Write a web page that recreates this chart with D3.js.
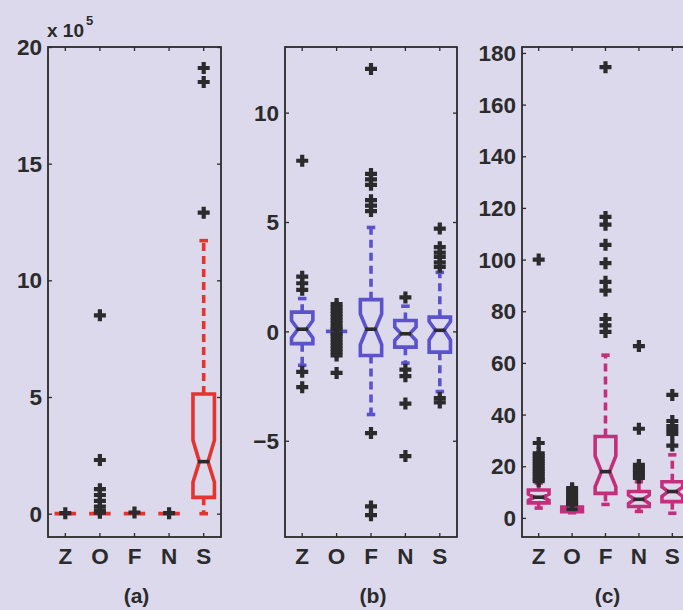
<!DOCTYPE html>
<html lang="en">
<head>
<meta charset="utf-8">
<title>Box plots Z O F N S</title>
<script type="text/javascript" src="https://d3js.org/d3.v7.min.js"></script>
<style type="text/css">
  body { margin: 0; background: #dcd9ec; }
  svg { display: block; }
  .tick text, .lbl { font-family: "Liberation Sans", Arial, sans-serif; font-weight: bold; fill: #2b2b2b; }
  .tick line { stroke: #2b2b2b; stroke-width: 1.3px; }
</style>
</head>
<body>
<script type="text/javascript">

// categories on every panel
var categories = ["Z", "O", "F", "N", "S"];

// panel (a), values in units of 10^5
var aQ1 = [0, 0, 0, 0, 0.7];
var aMed = [0, 0, 0, 0, 2.23];
var aQ3 = [0, 0, 0, 0, 5.13];
var aNotchLo = [0, 0, 0, 0, 1.35];
var aNotchHi = [0, 0, 0, 0, 3.15];
var aWhiskLo = [0, 0, 0, 0, 0];
var aWhiskHi = [0, 0, 0, 0, 11.7];
var aOutliers = [
  [0.02],
  [8.5, 2.3, 1.05, 0.8, 0.55, 0.3, 0.12, 0.04],
  [0.05],
  [0.02],
  [12.9, 18.5, 19.1]
];
var aTicks = [0, 5, 10, 15, 20];

// panel (b)
var bQ1 = [-0.56, 0, -1.1, -0.72, -0.95];
var bMed = [0.1, 0, 0.1, -0.11, 0.05];
var bQ3 = [0.88, 0, 1.45, 0.5, 0.65];
var bNotchLo = [-0.3, 0, -0.6, -0.42, -0.4];
var bNotchHi = [0.5, 0, 0.8, 0.2, 0.45];
var bWhiskLo = [-1.55, 0, -3.8, -1.45, -2.75];
var bWhiskHi = [1.5, 0, 4.75, 1.15, 2.7];
var bOutliers = [
  [7.8, 2.5, 2.2, 1.9, -1.85, -2.55],
  [1.25, 1.1, 0.95, 0.8, 0.65, 0.5, 0.35, 0.2, 0.1, -0.1, -0.2, -0.35, -0.5, -0.65, -0.8, -0.95, -1.1, -1.9],
  [12.0, 7.2, 6.95, 6.7, 6.0, 5.75, 5.5, -4.65, -8.0, -8.4],
  [1.55, -1.75, -2.05, -3.3, -5.7],
  [4.7, 3.85, 3.6, 3.4, 3.15, 2.95, -3.05, -3.25]
];
var bTicks = [-5, 0, 5, 10];

// panel (c)
var cQ1 = [5.8, 2.4, 9.5, 4.4, 6.3];
var cMed = [8.0, 3.3, 17.9, 7.2, 10.2];
var cQ3 = [10.8, 4.2, 31.5, 10.2, 14];
var cNotchLo = [6.8, 2.9, 12, 5.6, 8.3];
var cNotchHi = [9.2, 3.7, 24, 8.8, 12];
var cWhiskLo = [3.8, 2.0, 5.2, 2.5, 1.8];
var cWhiskHi = [13.5, 4.6, 63, 14, 24.4];
var cOutliers = [
  [100, 29, 25, 24, 23, 22, 21, 20, 19, 18, 17, 16, 15, 14.2],
  [11.5, 10.5, 9.5, 8.5, 7.5, 6.5, 5.8, 5.2],
  [174.5, 116.5, 113.5, 105.7, 98.6, 91.4, 88, 77, 74.5, 72],
  [66.5, 34.5, 20.5, 19.5, 18.5, 17.5, 16.5, 15.5],
  [47.6, 37.5, 35.5, 34, 32.5, 28]
];
var cTicks = [0, 20, 40, 60, 80, 100, 120, 140, 160, 180];

var w = 683, h = 610;
var ink = "#2b2b2b";
var plotTop = 47, plotBottom = 537;

var svg = d3.select("body").append("svg")
  .attr("width", w)
  .attr("height", h);

svg.append("rect").attr("width", w).attr("height", h).attr("fill", "#dcd9ec");

function rows(q1, med, q3, nlo, nhi, wlo, whi, outl) {
  return categories.map(function(c, i) {
    return { cat: c, q1: q1[i], med: med[i], q3: q3[i], nlo: nlo[i], nhi: nhi[i],
             wlo: wlo[i], whi: whi[i], out: outl[i] };
  });
}

var panels = [
  { name: "(a)", left: 48, right: 221, ylim: [-1, 20], ticks: aTicks, color: "#e3342f",
    data: rows(aQ1, aMed, aQ3, aNotchLo, aNotchHi, aWhiskLo, aWhiskHi, aOutliers) },
  { name: "(b)", left: 285, right: 457, ylim: [-9.4, 13], ticks: bTicks, color: "#5b52cc",
    data: rows(bQ1, bMed, bQ3, bNotchLo, bNotchHi, bWhiskLo, bWhiskHi, bOutliers) },
  { name: "(c)", left: 522, right: 689, ylim: [-7.4, 182.3], ticks: cTicks, color: "#c42f7c",
    data: rows(cQ1, cMed, cQ3, cNotchLo, cNotchHi, cWhiskLo, cWhiskHi, cOutliers) }
];

panels.forEach(function(p) {
  var g = svg.append("g");

  var x = d3.scaleBand().domain(categories).range([p.left, p.right]).padding(0);
  var y = d3.scaleLinear().domain(p.ylim).range([plotBottom, plotTop]);
  var bw = x.bandwidth();
  var half = bw * 0.31;      // box half width
  var neck = half * 0.4;     // notch half width
  var cap = half * 0.4;      // whisker cap half width

  // axes, ticks pointing inward
  var yl = g.append("g").attr("transform", "translate(" + p.left + ",0)")
    .call(d3.axisLeft(y).tickValues(p.ticks).tickSize(-4).tickSizeOuter(0).tickPadding(6)
      .tickFormat(function(d) { return d < 0 ? "\u2212" + Math.abs(d) : d; }));
  g.append("g").attr("transform", "translate(" + p.right + ",0)")
    .call(d3.axisRight(y).tickValues(p.ticks).tickSize(-4).tickSizeOuter(0).tickFormat(""));
  var xb = g.append("g").attr("transform", "translate(0," + plotBottom + ")")
    .call(d3.axisBottom(x).tickSize(-4).tickSizeOuter(0).tickPadding(11));
  g.append("g").attr("transform", "translate(0," + plotTop + ")")
    .call(d3.axisTop(x).tickSize(-4).tickSizeOuter(0).tickFormat(""));
  g.selectAll(".domain").remove();
  yl.selectAll("text").style("font-size", "22.5px").attr("dy", "0.34em");
  xb.selectAll("text").style("font-size", "22.5px");

  g.append("rect")
    .attr("x", p.left).attr("y", plotTop)
    .attr("width", p.right - p.left).attr("height", plotBottom - plotTop)
    .attr("fill", "none").attr("stroke", ink).attr("stroke-width", 1.8);

  var box = g.selectAll("g.box").data(p.data).enter().append("g").attr("class", "box");
  function cx(d) { return x(d.cat) + bw / 2; }

  // whiskers
  box.append("line")
    .attr("x1", cx).attr("x2", cx)
    .attr("y1", function(d) { return y(d.q3); })
    .attr("y2", function(d) { return y(d.whi); })
    .attr("stroke", p.color).attr("stroke-width", 3.6).attr("stroke-dasharray", "8,5");
  box.append("line")
    .attr("x1", cx).attr("x2", cx)
    .attr("y1", function(d) { return y(d.q1); })
    .attr("y2", function(d) { return y(d.wlo); })
    .attr("stroke", p.color).attr("stroke-width", 3.6).attr("stroke-dasharray", "8,5");
  ["whi", "wlo"].forEach(function(k) {
    box.filter(function(d) { return d.whi !== d.wlo; }).append("line")
      .attr("x1", function(d) { return cx(d) - cap; })
      .attr("x2", function(d) { return cx(d) + cap; })
      .attr("y1", function(d) { return y(d[k]); })
      .attr("y2", function(d) { return y(d[k]); })
      .attr("stroke", p.color).attr("stroke-width", 3.6);
  });

  // notched box
  box.append("path")
    .attr("d", function(d) {
      var c = cx(d), l = c - half, r = c + half;
      return "M" + l + "," + y(d.q1) +
        "L" + l + "," + y(d.nlo) +
        "L" + (c - neck) + "," + y(d.med) +
        "L" + l + "," + y(d.nhi) +
        "L" + l + "," + y(d.q3) +
        "L" + r + "," + y(d.q3) +
        "L" + r + "," + y(d.nhi) +
        "L" + (c + neck) + "," + y(d.med) +
        "L" + r + "," + y(d.nlo) +
        "L" + r + "," + y(d.q1) + "Z";
    })
    .attr("fill", "none").attr("stroke", p.color).attr("stroke-width", 3.6)
    .attr("stroke-linejoin", "miter");

  // median
  box.filter(function(d) { return d.q3 > d.q1; }).append("line")
    .attr("x1", function(d) { return cx(d) - neck - 1.5; })
    .attr("x2", function(d) { return cx(d) + neck + 1.5; })
    .attr("y1", function(d) { return y(d.med); })
    .attr("y2", function(d) { return y(d.med); })
    .attr("stroke", ink).attr("stroke-width", 3.6);

  // outliers
  box.each(function(d) {
    d3.select(this).selectAll("path.out").data(d.out).enter().append("path")
      .attr("class", "out")
      .attr("transform", function(v) { return "translate(" + cx(d) + "," + y(v) + ")"; })
      .attr("d", "M-6,0H6M0,-6V6")
      .attr("stroke", ink).attr("stroke-width", 4.2);
  });

  g.append("text").attr("class", "lbl")
    .attr("x", (p.left + p.right) / 2 + 2).attr("y", 603)
    .attr("text-anchor", "middle").style("font-size", "21px")
    .text(p.name);
});

// exponent label for panel (a)
var ex = svg.append("text").attr("class", "lbl").attr("x", 47).attr("y", 37).style("font-size", "19px");
ex.append("tspan").text("x 10");
ex.append("tspan").attr("dy", -12).attr("dx", 2).style("font-size", "13px").text("5");

</script>
</body>
</html>
